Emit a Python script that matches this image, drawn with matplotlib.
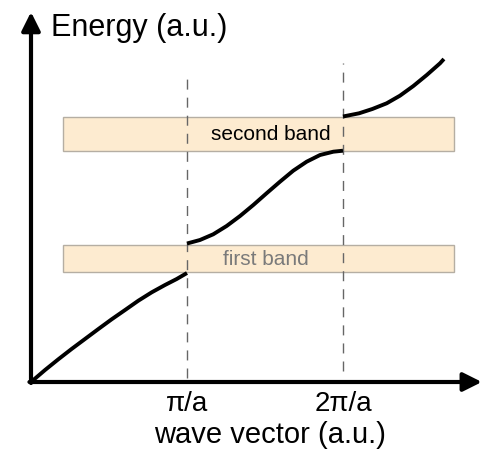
import numpy as np
import matplotlib.pyplot as plt
from matplotlib.patches import Rectangle

plt.rcParams['font.family'] = ['Liberation Sans', 'DejaVu Sans']

# wave vector in units of pi/a, energy in arbitrary units
k1 = [0.0, 0.09, 0.175, 0.26, 0.346, 0.432, 0.517, 0.603, 0.688, 0.774, 0.859, 0.934, 1.0]
e1 = [0.0, 0.12, 0.227, 0.33, 0.43, 0.53, 0.627, 0.72, 0.813, 0.897, 0.97, 1.03, 1.09]

k2 = [1.0, 1.083, 1.168, 1.254, 1.34, 1.425, 1.51, 1.596, 1.681, 1.767, 1.853, 1.938, 2.0]
e2 = [1.385, 1.42, 1.477, 1.56, 1.66, 1.77, 1.887, 2.003, 2.113, 2.203, 2.27, 2.303, 2.313]

k3 = [2.0, 2.103, 2.188, 2.28, 2.365, 2.451, 2.537, 2.622, 2.647]
e3 = [2.655, 2.687, 2.73, 2.787, 2.863, 2.96, 3.07, 3.187, 3.23]

# energy bands (bottom, top) and labels
bands = [(1.10, 1.37), (2.31, 2.65)]
band_labels = ['first band', 'second band']
band_label_x = [1.503, 1.538]
band_label_colors = ['#7a7a7a', 'black']

zone_edges = [1.0, 2.0]
zone_labels = ['π/a', '2π/a']

fig = plt.figure(figsize=(4.87, 4.54), dpi=100)
ax = fig.add_axes([0, 0, 1, 1])
ax.set_xlim(-31 / 156, 456 / 156)
ax.set_ylim(-0.72, 3.82)
ax.axis('off')

# bands
for (lo, hi), lab, lx, col in zip(bands, band_labels, band_label_x, band_label_colors):
    ax.add_patch(Rectangle((0.205, lo), 2.71 - 0.205, hi - lo,
                           facecolor='#fdebd0', edgecolor='#b5aea3', lw=1, zorder=1))
    ax.text(lx, (lo + hi) / 2 - 0.01, lab, ha='center', va='center',
            fontsize=15, color=col, zorder=3)

# zone boundaries
ax.vlines(zone_edges[0], 0.04, 3.10, colors='#666666', lw=1,
          linestyles=(0, (7.2, 5.8)), zorder=2)
ax.vlines(zone_edges[1], 0.11, 3.19, colors='#666666', lw=1,
          linestyles=(0, (7.2, 5.8)), zorder=2)

# dispersion curve
for k, e in [(k1, e1), (k2, e2), (k3, e3)]:
    ax.plot(k, e, color='black', lw=2.8, solid_capstyle='butt',
            solid_joinstyle='round', zorder=4)

# axes with arrows
ax.annotate('', xy=(0, 3.70), xytext=(0, -0.01),
            arrowprops=dict(arrowstyle='-|>', lw=3, color='black',
                            mutation_scale=28, shrinkA=0, shrinkB=0))
ax.annotate('', xy=(2.89, 0), xytext=(-0.01, 0),
            arrowprops=dict(arrowstyle='-|>', lw=3, color='black',
                            mutation_scale=28, shrinkA=0, shrinkB=0))

ax.text(0.13, 3.46, 'Energy (a.u.)', fontsize=22, ha='left', va='baseline')
for x, lab in zip(zone_edges, zone_labels):
    ax.text(x, -0.29, lab, fontsize=20, ha='center', va='baseline')
ax.text(1.535, -0.61, 'wave vector (a.u.)', fontsize=21, ha='center', va='baseline')

fig.savefig('out.png', dpi=100)
